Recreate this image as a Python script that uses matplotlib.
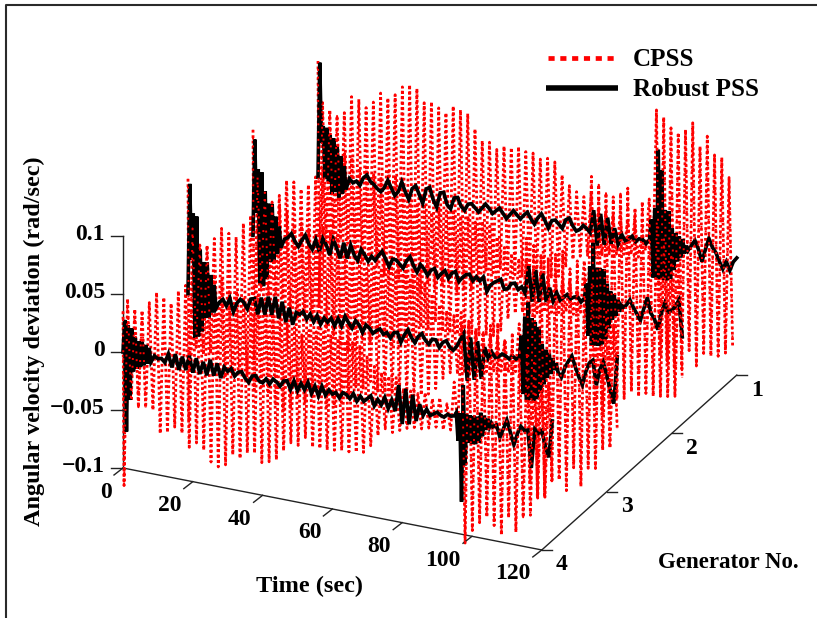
import numpy as np
import matplotlib
matplotlib.use('Agg')
from matplotlib import pyplot as plt

plt.rcParams['font.family'] = ['Liberation Serif', 'DejaVu Serif']
plt.rcParams['font.weight'] = 'bold'

generators = [1, 2, 3, 4]
z_ticks = [-0.1, -0.05, 0, 0.05, 0.1]
z_labels = ['\u22120.1', '\u22120.05', '0', '0.05', '0.1']
time_ticks = [0, 20, 40, 60, 80, 100, 120]

# CPSS: first swing at t = 0
cpss_start_top = [0.100, 0.091, 0.099, 0.035]
cpss_start_low = [-0.110, -0.110, -0.110, -0.115]

# CPSS: upper and lower turning points of the oscillation
cpss_top_g1 = [.065, .060, .056, .060, .075, .074, .068, .074, .083, .080, .084, .092, .095, .093, .082, .084, .080, .077, .084, .082,
               .080, .068, .059, .059, .054, .058, .058, .060, .057, .057, .053, .055, .053, .043, .035, .031, .028, .032, .020, .018,
               .016, .019, .014, .017, .003, .037, .115, .110, .102, .099, .103, .110, .091, .101, .086, .085, .069]
cpss_low_g1 = [-.055, -.052, -.050, -.052, -.066, -.066, -.060, -.066, -.074, -.071, -.075, -.083, -.086, -.084, -.074, -.076, -.072, -.069, -.075, -.073,
               -.071, -.060, -.052, -.053, -.048, -.052, -.051, -.052, -.050, -.050, -.047, -.048, -.045, -.036, -.028, -.024, -.022, -.023, -.019, -.017,
               -.016, -.015, -.014, -.015, -.008, -.022, -.095, -.100, -.104, -.104, -.087, -.099, -.087, -.088, -.087, -.083, -.077]
cpss_top_g2 = [.051, .039, .032, .039, .053, .053, .048, .053, .061, .068, .075, .083, .086, .084, .076, .078, .074, .072, .078, .076,
               .074, .064, .056, .056, .050, .055, .054, .056, .052, .053, .049, .051, .048, .040, .032, .028, .025, .024, .018, .016,
               .015, .017, .013, .015, .008, .034, .108, .102, .096, .094, .098, .104, .088, .095, .082, .080, .066, .055, .048]
cpss_low_g2 = [-.046, -.050, -.047, -.050, -.065, -.063, -.057, -.061, -.071, -.067, -.072, -.081, -.084, -.081, -.071, -.073, -.067, -.066, -.073, -.071,
               -.068, -.059, -.051, -.052, -.044, -.051, -.051, -.051, -.050, -.049, -.049, -.047, -.046, -.040, -.029, -.023, -.021, -.020, -.019, -.017,
               -.016, -.015, -.013, -.014, -.011, -.012, -.090, -.095, -.088, -.080, -.078, -.071, -.074, -.070, -.071, -.070, -.069, -.068, -.050]
cpss_top_g3 = [.057, .044, .045, .052, .062, .059, .057, .070, .078, .075, .080, .086, .090, .088, .078, .080, .076, .074, .080, .078,
               .076, .066, .056, .057, .052, .056, .055, .057, .054, .054, .051, .052, .050, .041, .033, .029, .026, .030, .019, .017,
               .015, .016, .014, .013, .006, .030, .105, .100, .094, .092, .096, .100, .086, .094, .080, .078, .066, .055, .045]
cpss_low_g3 = [-.045, -.050, -.048, -.050, -.066, -.064, -.058, -.062, -.072, -.068, -.073, -.082, -.085, -.082, -.072, -.074, -.068, -.066, -.074, -.072,
               -.068, -.060, -.052, -.053, -.045, -.052, -.052, -.052, -.050, -.050, -.050, -.048, -.046, -.040, -.030, -.024, -.024, -.022, -.020, -.018,
               -.017, -.015, -.014, -.014, -.012, -.010, -.105, -.117, -.115, -.100, -.098, -.106, -.085, -.100, -.083, -.082, -.065, -.062, -.044]
cpss_top_g4 = [.047, .039, .039, .047, .057, .054, .050, .062, .068, .070, .072, .080, .082, .080, .070, .072, .068, .066, .072, .070,
               .068, .058, .052, .050, .045, .050, .050, .051, .049, .048, .047, .047, .046, .037, .030, .026, .024, .024, .016, .015,
               .014, .016, .012, .014, .010, .030, .080, .085, .080, .078, .085, .088, .075, .082, .070, .068, .060, .050, .045]
cpss_low_g4 = [-.041, -.045, -.044, -.045, -.064, -.062, -.056, -.060, -.071, -.066, -.071, -.080, -.083, -.080, -.070, -.072, -.066, -.065, -.072, -.070,
               -.067, -.058, -.050, -.051, -.043, -.050, -.050, -.050, -.049, -.048, -.048, -.047, -.046, -.039, -.029, -.022, -.024, -.021, -.018, -.016,
               -.016, -.014, -.012, -.013, -.012, -.008, -.107, -.095, -.087, -.081, -.087, -.094, -.078, -.089, -.075, -.072, -.056, -.054, -.038]

# Robust PSS: fault transient, t = 0 ... 8 every 0.5 s
rpss_head_g1 = [0, .099, .030, .045, .000, .044, -.002, .038, -.012, .036, -.010, .030, -.014, .022, -.010, .014, -.006]
rpss_head_g2 = [0, .083, .020, .058, -.040, .056, -.042, .040, -.035, .030, -.020, .030, -.018, .020, -.012, .012, -.006]
rpss_head_g3 = [0, .095, .030, .070, -.037, .068, -.035, .040, -.030, .030, -.018, .030, -.017, .020, -.012, .012, -.008]
rpss_head_g4 = [0, .028, -.068, .024, -.040, .022, -.015, .015, -.012, .012, -.010, .012, -.008, .010, -.006, .008, -.004]

# Robust PSS: t = 9 ... 95 every 1 s
rpss_main_g1 = [.004, .001, .003, .000, .007, .010, .005, .003, .000, -.002,
                .002, .009, .003, -.003, .001, .010, .002, -.004, .006, .009,
                .002, -.005, .008, .010, .000, -.006, .007, .008, -.002, -.005,
                .005, .006, -.001, -.004, .002, .003, .000, -.003, .001, .005,
                .002, -.002, .001, .004, .000, -.004, .000, .004, .001, -.002,
                .002, .005, .000, -.004, .002, .006, .001, -.005, .002, .003,
                .000, -.003, .005, .007, .001, -.003, -.001, .003, .001, -.002,
                .018, -.012, .016, -.010, .014, -.008, .006, -.007, .002, -.003,
                -.001, .002, -.002, .001, .001, -.002, .002]
rpss_main_g2 = [.002, .004, .008, .002, -.002, .004, .009, .002, -.002, .007,
                -.003, .009, .004, -.004, .010, .003, -.005, .009, -.004, .008,
                .000, -.004, .006, .002, -.003, .002, -.001, .004, .008, .002,
                -.004, .003, .003, .000, -.003, .004, .008, .001, -.004, .003,
                .000, -.005, .000, .002, -.005, -.001, .002, -.004, .001, .003,
                -.005, -.001, .002, .003, -.002, .002, -.001, .003, -.009, -.003,
                .000, .002, .004, -.004, -.003, .002, .003, -.002, .001, -.004,
                .020, -.010, .018, -.009, .016, -.008, .005, -.006, .002, -.004,
                -.001, .002, -.001, .001, .002, -.002, .002]
rpss_main_g3 = [-.002, .001, -.004, .003, -.008, .000, .004, .002, -.003, .006,
                .007, -.006, .009, -.005, .011, -.004, .012, -.006, .009, -.008,
                .005, -.009, .002, .001, .004, -.002, .003, -.003, .003, -.004,
                .002, -.001, .003, -.003, .004, -.002, .007, .002, -.002, .005,
                .002, -.004, .003, .001, -.003, .000, .002, -.002, .000, -.004,
                .001, .002, -.006, .001, .006, .000, -.004, .002, .005, .000,
                -.003, .002, .002, -.004, .001, .003, -.002, -.004, .000, .006,
                .012, -.028, .010, -.026, .008, -.024, .004, -.005, .001, -.003,
                -.002, .001, .000, -.002, .001, -.001, .001]
rpss_main_g4 = [.002, .000, .001, -.002, .006, -.005, .007, -.006, .006, -.005,
                .008, -.006, .007, -.006, .005, -.006, .008, -.005, .006, -.006,
                .004, .001, .004, -.002, .002, .003, -.002, -.005, .001, .002,
                -.002, -.003, .001, -.003, .002, .000, -.003, .002, .003, -.004,
                .004, -.004, .003, -.002, .005, -.004, .003, -.005, .004, -.003,
                .002, -.001, .001, -.003, .002, .001, -.002, .003, -.003, .002,
                -.002, .001, .004, -.004, .002, -.002, .005, -.004, .004, -.005,
                .018, -.015, .016, -.014, .012, -.010, .005, -.004, .002, -.003,
                -.001, .001, -.001, -.002, .001, .000, .001]

# Robust PSS: second disturbance, t = 95.5 ... 105.5 every 0.5 s
rpss_event_g1 = [.020, -.030, .030, -.030, .081, -.030, .064, -.030, .030, -.030, .030, -.028, .016, -.020, .012, -.012, .010, -.008, .008, -.004, .003]
rpss_event_g2 = [.015, -.030, .030, -.037, .051, -.037, .030, -.037, .030, -.035, .030, -.030, .018, -.020, .012, -.012, .010, -.008, .006, -.004, .002]
rpss_event_g3 = [.020, -.030, .037, -.034, .050, -.034, .037, -.034, .034, -.032, .030, -.026, .016, -.018, .012, -.012, .010, -.008, .006, -.004, .002]
rpss_event_g4 = [.004, -.020, .004, -.072, .029, -.040, .004, -.020, .004, -.020, .004, -.020, .004, -.018, .008, -.012, .006, -.006, .004, -.003, .001]

# Robust PSS: t = 106 ... end every 1 s
rpss_tail_g1 = [-.001, .004, .009, .002, -.008, .003, .013, .006, .002, -.005, -.011, -.004, -.011, -.003, .001]
rpss_tail_g2 = [.000, .003, .008, .002, -.003, -.008, .003, .013, .000, -.004, -.013, .002, .011, .004, .006, .010, .016, -.015]
rpss_tail_g3 = [-.005, -.009, .000, .006, .011, .002, -.006, -.012, .000, .008, .011, -.010, .004, .011, .000, -.012, -.023, .018]
rpss_tail_g4 = [-.002, .000, -.010, -.002, .006, -.004, -.014, -.004, .003, .000, .001, -.031, .003, .000, .003, -.010, -.019, .013]

cpss_tops = [cpss_top_g1, cpss_top_g2, cpss_top_g3, cpss_top_g4]
cpss_lows = [cpss_low_g1, cpss_low_g2, cpss_low_g3, cpss_low_g4]
rpss_heads = [rpss_head_g1, rpss_head_g2, rpss_head_g3, rpss_head_g4]
rpss_mains = [rpss_main_g1, rpss_main_g2, rpss_main_g3, rpss_main_g4]
rpss_events = [rpss_event_g1, rpss_event_g2, rpss_event_g3, rpss_event_g4]
rpss_tails = [rpss_tail_g1, rpss_tail_g2, rpss_tail_g3, rpss_tail_g4]

RED = '#ff0000'
DOTS = (0, (1.0, 0.95))
AXIS = '#222222'


# oblique view: time runs right and down, generator 4 is at the front
def project(t, g, w):
    t = np.asarray(t, dtype=float)
    w = np.asarray(w, dtype=float)
    x = 123 + 3.49 * t + 65 * (4 - g)
    y = 468 + 0.683 * t - 58.3 * (4 - g) - 1160 * (w + 0.1)
    return x, y


def cpssSeries(i):
    top = cpss_tops[i]
    low = cpss_lows[i]
    t = [0, 0.3]
    w = [cpss_start_top[i], cpss_start_low[i]]
    for k in range(len(top)):
        t += [1.3 + 2.08 * k, 2.34 + 2.08 * k]
        w += [top[k], low[k]]
    return np.array(t), np.array(w)


def rpssSeries(i):
    t = np.concatenate([0.5 * np.arange(len(rpss_heads[i])),
                        9 + 1.0 * np.arange(len(rpss_mains[i])),
                        95.5 + 0.5 * np.arange(len(rpss_events[i])),
                        106 + 1.0 * np.arange(len(rpss_tails[i]))])
    w = np.concatenate([rpss_heads[i], rpss_mains[i], rpss_events[i], rpss_tails[i]])
    return t, w


fig = plt.figure(figsize=(8.17, 6.18), dpi=100)
ax = fig.add_axes([0, 0, 1, 1])
ax.set_xlim(0, 817)
ax.set_ylim(618, 0)
ax.axis('off')

# outer frame of the picture, open on the right and at the bottom
ax.plot([6, 6, 817], [618, 5, 5], color='#2a2a2a', lw=1.5, clip_on=False)

for i, g in enumerate(generators):
    t, w = cpssSeries(i)
    x, y = project(t, g, w)
    ax.plot(x, y, color=RED, lw=2.0, ls=DOTS, dash_capstyle='butt', zorder=2)

for i, g in enumerate(generators):
    t, w = rpssSeries(i)
    x, y = project(t, g, w)
    ax.plot(x, y, color='black', lw=2.6, solid_joinstyle='miter', zorder=3)

    # red dots show through the black at both disturbances
    t, w = cpssSeries(i)
    x, y = project(t, g, w)
    keep = (t < 7) | (t > 96)
    ax.plot(np.where(keep, x, np.nan), y, color=RED, lw=1.4, ls=(0, (1.0, 3.0)), dash_capstyle='butt', zorder=4)

# axes
x, y = project([0, 0], 4, [-0.1, 0.1])
ax.plot(x, y, color=AXIS, lw=1.0, zorder=1)
x, y = project([0, 120], 4, [-0.1, -0.1])
ax.plot(x, y, color=AXIS, lw=1.0, zorder=1)
x = [project(120, g, -0.1)[0] for g in generators]
y = [project(120, g, -0.1)[1] for g in generators]
ax.plot(x, y, color=AXIS, lw=1.0, zorder=1)

for v, lab in zip(z_ticks, z_labels):
    x, y = project(0, 4, v)
    ax.plot([x - 12, x], [y, y], color=AXIS, lw=1.0)
    ax.text(x - 18, y - 1, lab, ha='right', va='center', fontsize=17)

for v in time_ticks:
    x, y = project(v, 4, -0.1)
    ax.plot([x, x - 9], [y, y + 7], color=AXIS, lw=1.0)
    ax.text(x - 11, y + 24, str(v), ha='right', va='center', fontsize=17)

for g in generators:
    x, y = project(120, g, -0.1)
    ax.plot([x, x + 10], [y, y], color=AXIS, lw=1.0)
    ax.text(x + 20, y + 15, str(g), ha='center', va='center', fontsize=17)

ax.text(310, 586, 'Time (sec)', ha='center', va='center', fontsize=17.5)
ax.text(658, 563, 'Generator No.', ha='left', va='center', fontsize=16.5)
ax.text(34, 341, 'Angular velocity deviation (rad/sec)', rotation=90, ha='center', va='center', fontsize=17.5)

# legend
ax.plot([548, 618], [58, 58], color=RED, lw=3.4, ls=(0, (1.3, 1.2)), dash_capstyle='butt')
ax.plot([546, 618], [88, 88], color='black', lw=4.0, solid_capstyle='butt')
ax.text(633, 59, 'CPSS', ha='left', va='center', fontsize=18)
ax.text(633, 89, 'Robust PSS', ha='left', va='center', fontsize=18)

plt.savefig('out.png', dpi=100)
